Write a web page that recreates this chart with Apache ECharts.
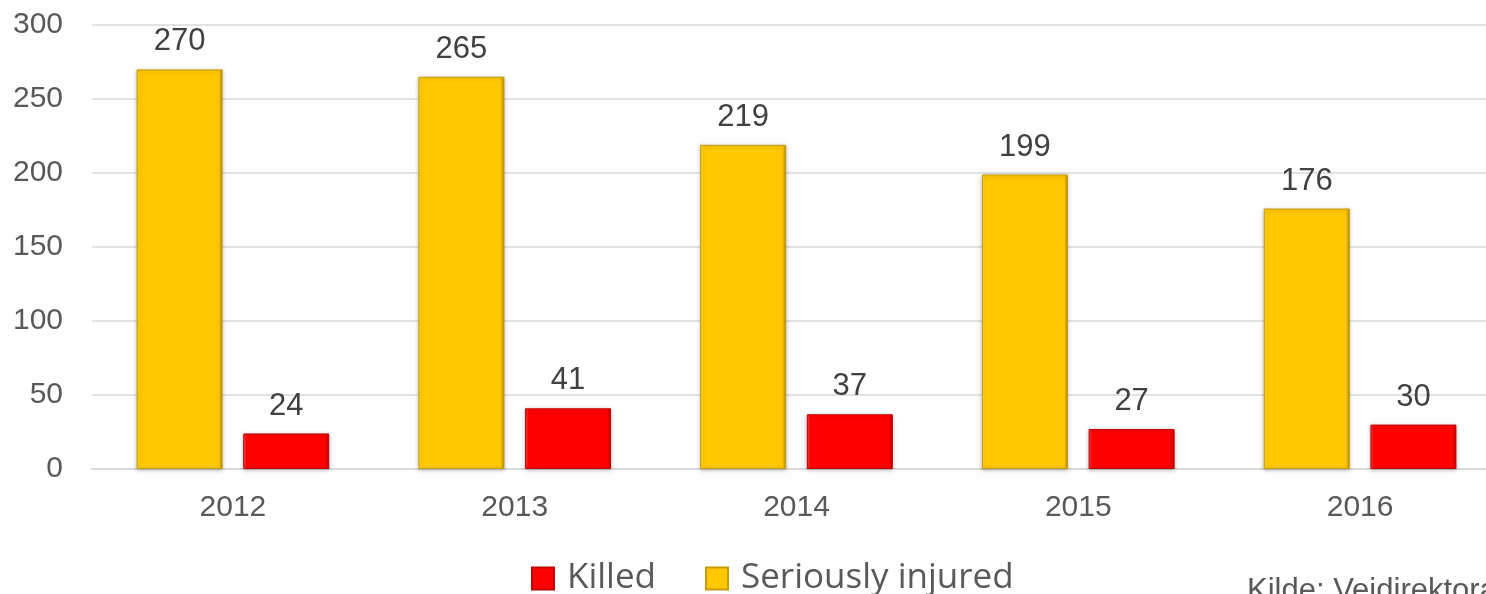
<!DOCTYPE html>
<html>
<head>
<meta charset="utf-8">
<script src="https://cdn.jsdelivr.net/npm/echarts@6/dist/echarts.min.js"></script>
<style>
html,body{margin:0;padding:0;background:#fff;overflow:hidden;width:1486px;height:594px;}
#c{width:1502px;height:594px;}
</style>
</head>
<body>
<div id="c"></div>
<script>
var years = ['2012', '2013', '2014', '2015', '2016'];
var seriouslyInjured = [270, 265, 219, 199, 176];
var killed = [24, 41, 37, 27, 30];
var legendNames = ['Killed', 'Seriously injured'];
var sourceText = 'Kilde: Vejdirektoratet';

function bevel(light, main, dark) {
  return {
    type: 'linear', x: 0, y: 0, x2: 1, y2: 0,
    colorStops: [
      {offset: 0, color: light},
      {offset: 0.04, color: main},
      {offset: 0.96, color: main},
      {offset: 1, color: dark}
    ]
  };
}

var chart = echarts.init(document.getElementById('c'), null, {renderer: 'canvas'});
var labelStyle = {
  show: true, position: 'top', distance: 12,
  fontFamily: 'Liberation Sans, Arial, sans-serif', fontSize: 31, color: '#404040'
};
chart.setOption({
  animation: false,
  backgroundColor: '#ffffff',
  grid: {left: 92, top: 25, right: 1, height: 444, containLabel: false},
  legend: {
    data: legendNames,
    top: 556,
    left: 526,
    itemWidth: 22, itemHeight: 22, itemGap: 49,
    icon: 'rect',
    textStyle: {fontFamily: 'Open Sans, Liberation Sans, sans-serif', fontSize: 35, color: '#595959', padding: [0, 0, 0, 8]}
  },
  xAxis: {
    type: 'category',
    data: years,
    axisTick: {show: false},
    axisLine: {show: true, lineStyle: {color: '#d9d9d9', width: 2}},
    axisLabel: {fontFamily: 'Liberation Sans, Arial, sans-serif', fontSize: 30, color: '#595959', margin: 24}
  },
  yAxis: {
    type: 'value',
    min: 0, max: 300, interval: 50,
    axisLine: {show: false},
    axisTick: {show: false},
    splitLine: {lineStyle: {color: '#d9d9d9', width: 1.5}},
    axisLabel: {fontFamily: 'Liberation Sans, Arial, sans-serif', fontSize: 30, color: '#595959', margin: 29}
  },
  series: [
    {
      name: 'Seriously injured',
      type: 'bar',
      data: seriouslyInjured,
      barWidth: 86,
      barGap: '24%',
      itemStyle: {
        color: bevel('#FFDA3A', '#FFC800', '#A88300'),
        borderColor: '#C79C00', borderWidth: 1,
        shadowBlur: 4, shadowColor: 'rgba(0,0,0,0.25)', shadowOffsetY: 1
      },
      label: labelStyle
    },
    {
      name: 'Killed',
      type: 'bar',
      data: killed,
      barWidth: 86,
      barGap: '24%',
      itemStyle: {
        color: bevel('#FF4A4A', '#FF0000', '#B00000'),
        borderColor: '#C00000', borderWidth: 1,
        shadowBlur: 4, shadowColor: 'rgba(0,0,0,0.25)', shadowOffsetY: 1
      },
      label: labelStyle
    }
  ],
  graphic: [{
    type: 'text', left: 1247, top: 576,
    style: {text: sourceText, fontFamily: 'Liberation Sans, Arial, sans-serif', fontSize: 31, fill: '#595959'}
  }]
});
</script>
</body>
</html>
